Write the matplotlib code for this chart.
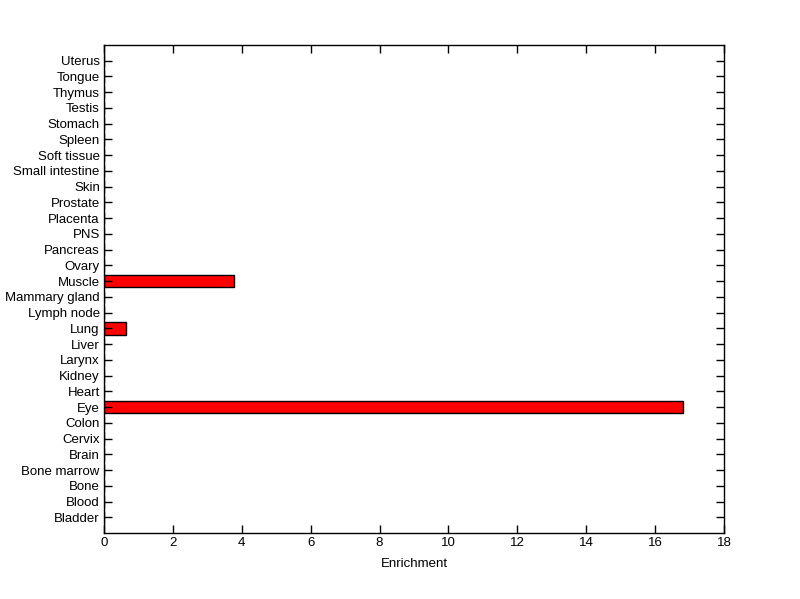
import matplotlib
matplotlib.use('Agg')
import matplotlib.pyplot as plt

plt.rcParams['font.family'] = ['Liberation Sans', 'DejaVu Sans']

tissues = ['Bladder', 'Blood', 'Bone', 'Bone marrow', 'Brain', 'Cervix', 'Colon',
           'Eye', 'Heart', 'Kidney', 'Larynx', 'Liver', 'Lung', 'Lymph node',
           'Mammary gland', 'Muscle', 'Ovary', 'Pancreas', 'PNS', 'Placenta',
           'Prostate', 'Skin', 'Small intestine', 'Soft tissue', 'Spleen',
           'Stomach', 'Testis', 'Thymus', 'Tongue', 'Uterus']
enrichment = [0, 0, 0, 0, 0, 0, 0,
              16.82, 0, 0, 0, 0, 0.65, 0,
              0, 3.78, 0, 0, 0, 0,
              0, 0, 0, 0, 0,
              0, 0, 0, 0, 0]
xticks = [0, 2, 4, 6, 8, 10, 12, 14, 16, 18]

fig = plt.figure(figsize=(8, 5.99), dpi=100)
ax = fig.add_axes([0.13, 0.11, 0.775, 0.815])

pos = list(range(1, len(tissues) + 1))
ax.barh(pos, enrichment, height=0.8, color='#ff0000', edgecolor='black', linewidth=1)

ax.set_ylim(0, len(tissues) + 1)
ax.set_yticks(pos)
ax.set_yticklabels(tissues)
ax.set_xlim(0, 18)
ax.set_xticks(xticks)
ax.set_xlabel('Enrichment', fontsize=9.5, labelpad=6)
ax.tick_params(direction='in', length=6, width=1, labelsize=9.5,
               top=True, right=True, pad=3)
for s in ax.spines.values():
    s.set_linewidth(1)

fig.savefig('out.png', dpi=100)
